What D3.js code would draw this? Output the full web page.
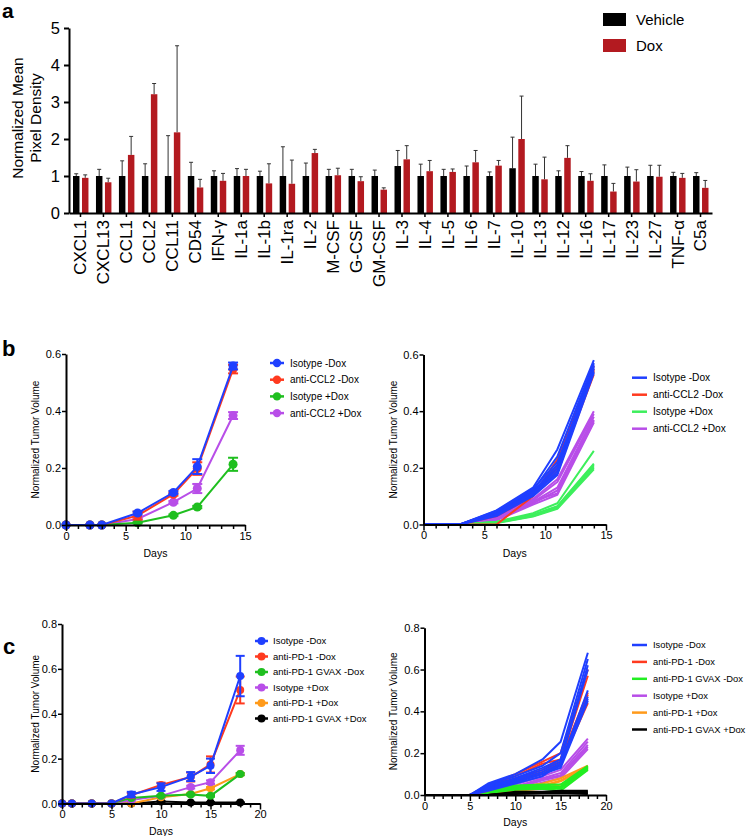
<!DOCTYPE html>
<html><head><meta charset="utf-8">
<script src="https://cdn.jsdelivr.net/npm/d3@7/dist/d3.min.js"></script>
<style>body{margin:0;background:#fff} text{font-family:"Liberation Sans",Arial,Helvetica,sans-serif}</style>
</head><body>
<svg id="fig" width="749" height="836"></svg>
<script>
// ---------- Panel a data ----------
const categories = ["CXCL1","CXCL13","CCL1","CCL2","CCL11","CD54","IFN-γ","IL-1a","IL-1b","IL-1ra","IL-2","M-CSF","G-CSF","GM-CSF","IL-3","IL-4","IL-5","IL-6","IL-7","IL-10","IL-13","IL-12","IL-16","IL-17","IL-23","IL-27","TNF-α","C5a"];
const vehicleMean = [1,1,1,1,1,1,1,1,1,1,1,1,1,1,1.27,1,1,1,1,1.21,1,1,1,1,1,1,1,1];
const vehicleErr  = [0.06,0.18,0.41,0.33,1.09,0.37,0.14,0.2,0.13,0.79,0.35,0.18,0.18,0.16,0.42,0.32,0.18,0.27,0.11,0.84,0.32,0.14,0.12,0.3,0.24,0.29,0.1,0.09];
const doxMean = [0.95,0.83,1.57,3.21,2.18,0.69,0.87,1.0,0.8,0.79,1.62,1.02,0.86,0.63,1.45,1.13,1.11,1.37,1.28,2.0,0.91,1.49,0.87,0.58,0.85,0.98,0.95,0.68];
const doxErr  = [0.08,0.11,0.5,0.29,2.34,0.22,0.2,0.18,0.53,0.64,0.1,0.19,0.12,0.05,0.37,0.29,0.08,0.32,0.14,1.16,0.6,0.33,0.19,0.22,0.32,0.31,0.12,0.2];
const yTicksA = [0,1,2,3,4,5];

// ---------- Panel b data ----------
const daysB = [0,2,3,6,9,11,14];
const groupsB = ["Isotype -Dox","anti-CCL2 -Dox","Isotype +Dox","anti-CCL2 +Dox"];
const meanB_isoMinus  = [0,0,0,0.042,0.114,0.205,0.558];
const errB_isoMinus   = [0,0,0,0.005,0.005,0.026,0.012];
const meanB_antiMinus = [0,0,0,0.033,0.108,0.198,0.547];
const errB_antiMinus  = [0,0,0,0.014,0.005,0.022,0.015];
const meanB_isoPlus   = [0,0,0,0.008,0.034,0.063,0.213];
const errB_isoPlus    = [0,0,0,0.002,0.003,0.004,0.023];
const meanB_antiPlus  = [0,0,0,0.021,0.080,0.128,0.384];
const errB_antiPlus   = [0,0,0,0.003,0.004,0.016,0.012];

const miceB_isoMinus = [
 [0,0,0,0.05,0.13,0.265,0.58],[0,0,0,0.045,0.12,0.24,0.57],[0,0,0,0.04,0.115,0.21,0.565],
 [0,0,0,0.042,0.11,0.2,0.56],[0,0,0,0.038,0.105,0.19,0.555],[0,0,0,0.035,0.11,0.18,0.55],
 [0,0,0,0.048,0.125,0.22,0.54],[0,0,0,0.03,0.1,0.175,0.535]];
const miceB_antiMinus = [
 [0,0,0,0,0.1,0.23,0.56],[0,0,0,0.04,0.11,0.21,0.55],[0,0,0,0.035,0.105,0.2,0.54],
 [0,0,0,0.03,0.1,0.19,0.53],[0,0,0,0.045,0.115,0.2,0.545]];
const miceB_isoPlus = [
 [0,0,0,0.01,0.04,0.075,0.26],[0,0,0,0.008,0.035,0.065,0.215],[0,0,0,0.007,0.033,0.062,0.21],
 [0,0,0,0.006,0.03,0.058,0.2],[0,0,0,0.009,0.034,0.06,0.205],[0,0,0,0.005,0.028,0.055,0.195]];
const miceB_antiPlus = [
 [0,0,0,0.03,0.09,0.16,0.4],[0,0,0,0.025,0.085,0.15,0.39],[0,0,0,0.02,0.08,0.13,0.38],
 [0,0,0,0.018,0.075,0.12,0.37],[0,0,0,0.015,0.07,0.105,0.36],[0,0,0,0.022,0.082,0.11,0.365]];

// ---------- Panel c data ----------
const daysC = [0,1,3,5,7,10,13,15,18];
const groupsC = ["Isotype -Dox","anti-PD-1 -Dox","anti-PD-1 GVAX -Dox","Isotype +Dox","anti-PD-1 +Dox","anti-PD-1 GVAX +Dox"];
const meanC_isoMinus  = [0,0,0,0,0.04,0.073,0.12,0.168,0.568];
const errC_isoMinus   = [0,0,0,0,0.012,0.017,0.02,0.032,0.09];
const meanC_pdMinus   = [0,0,0,0,0.037,0.083,0.118,0.174,0.506];
const errC_pdMinus    = [0,0,0,0,0.01,0.01,0.02,0.036,0.06];
const meanC_gvaxMinus = [0,0,0,0,0.025,0.034,0.04,0.034,0.131];
const errC_gvaxMinus  = [0,0,0,0,0.004,0.004,0.004,0.004,0.005];
const meanC_isoPlus   = [0,0,0,0,0.015,0.034,0.073,0.095,0.237];
const errC_isoPlus    = [0,0,0,0,0.003,0.004,0.006,0.008,0.02];
const meanC_pdPlus    = [0,0,0,0,0,0.028,0.042,0.068,0.131];
const errC_pdPlus     = [0,0,0,0,0,0.003,0.004,0.005,0.004];
const meanC_gvaxPlus  = [0,0,0,0,0,0.009,0.004,0.004,0.004];
const errC_gvaxPlus   = [0,0,0,0,0,0.002,0.002,0.002,0.002];

const miceC_isoMinus = [
 [0,0,0,0,0.055,0.1,0.17,0.255,0.68],[0,0,0,0,0.05,0.09,0.14,0.2,0.65],[0,0,0,0,0.045,0.08,0.13,0.17,0.62],
 [0,0,0,0,0.04,0.075,0.12,0.16,0.6],[0,0,0,0,0.035,0.07,0.11,0.15,0.5],[0,0,0,0,0.03,0.065,0.1,0.14,0.47],
 [0,0,0,0,0.025,0.06,0.1,0.13,0.45],[0,0,0,0,0.02,0.055,0.09,0.15,0.46]];
const miceC_pdMinus = [
 [0,0,0,0,0.045,0.1,0.16,0.2,0.6],[0,0,0,0,0.04,0.09,0.15,0.17,0.57],[0,0,0,0,0.03,0.08,0.12,0.17,0.49],
 [0,0,0,0,0.035,0.075,0.11,0.16,0.48],[0,0,0,0,0.02,0.07,0.1,0.15,0.44]];
const miceC_gvaxMinus = [
 [0,0,0,0,0.04,0.045,0.05,0.05,0.14],[0,0,0,0,0.03,0.04,0.045,0.04,0.135],[0,0,0,0,0.02,0.035,0.04,0.035,0.13],
 [0,0,0,0,0.015,0.03,0.035,0.03,0.125],[0,0,0,0,0.01,0.025,0.03,0.02,0.12]];
const miceC_isoPlus = [
 [0,0,0,0,0.02,0.05,0.09,0.12,0.27],[0,0,0,0,0.015,0.04,0.08,0.105,0.255],[0,0,0,0,0.01,0.035,0.075,0.095,0.24],
 [0,0,0,0,0.005,0.03,0.07,0.09,0.23],[0,0,0,0,0,0.02,0.06,0.08,0.22]];
const miceC_pdPlus = [
 [0,0,0,0,0,0.035,0.055,0.08,0.14],[0,0,0,0,0,0.03,0.045,0.07,0.135],
 [0,0,0,0,0,0.025,0.04,0.065,0.13],[0,0,0,0,0,0.02,0.03,0.05,0.12]];
const miceC_gvaxPlus = [
 [0,0,0,0,0,0.015,0.015,0.02,0.02],[0,0,0,0,0,0.01,0.012,0.018,0.015],
 [0,0,0,0,0,0.008,0.01,0.015,0.01],[0,0,0,0,0,0.005,0.008,0.01,0.005]];

// ---------- colours ----------
const C_BLUE="#1f3fff", C_RED="#ff3a1f", C_GREEN="#1fbf1f", C_GREEN_B="#3def5c", C_GREEN_C="#22ee22",
      C_PURPLE="#b84ee8", C_ORANGE="#ff9a1a", C_BLACK="#000000", C_BAR_RED="#b31a20";

const svg = d3.select("#fig");
const FONT = '"Liberation Sans",Arial,Helvetica,sans-serif';

// ================= Panel a =================
(function(){
  const g = svg.append("g");
  const xA = d3.scaleBand().domain(categories).range([69, 712]);
  const yA = d3.scaleLinear().domain([0,5]).range([213, 28]);
  const sub = d3.scaleBand().domain(["Vehicle","Dox"]).range([4, xA.bandwidth()-3.5]).paddingInner(0.28);
  const rows = categories.map((c,i)=>({c, v:vehicleMean[i], ve:vehicleErr[i], d:doxMean[i], de:doxErr[i]}));
  const bars = [];
  rows.forEach(r=>{ bars.push({c:r.c,k:"Vehicle",m:r.v,e:r.ve,col:C_BLACK}); bars.push({c:r.c,k:"Dox",m:r.d,e:r.de,col:C_BAR_RED}); });

  g.selectAll("line.err").data(bars).join("line")
    .attr("x1",d=>xA(d.c)+sub(d.k)+sub.bandwidth()/2).attr("x2",d=>xA(d.c)+sub(d.k)+sub.bandwidth()/2)
    .attr("y1",d=>yA(d.m)).attr("y2",d=>yA(d.m+d.e)).attr("stroke","#333").attr("stroke-width",1);
  g.selectAll("line.cap").data(bars).join("line")
    .attr("x1",d=>xA(d.c)+sub(d.k)+sub.bandwidth()/2-2).attr("x2",d=>xA(d.c)+sub(d.k)+sub.bandwidth()/2+2)
    .attr("y1",d=>yA(d.m+d.e)).attr("y2",d=>yA(d.m+d.e)).attr("stroke","#333").attr("stroke-width",1);
  g.selectAll("rect.bar").data(bars).join("rect")
    .attr("x",d=>xA(d.c)+sub(d.k)).attr("width",sub.bandwidth())
    .attr("y",d=>yA(d.m)).attr("height",d=>yA(0)-yA(d.m)).attr("fill",d=>d.col);

  const ya = g.append("g").attr("transform","translate(69,0)")
    .call(d3.axisLeft(yA).tickValues(yTicksA).tickFormat(d3.format("d")).tickSize(5).tickSizeOuter(0).tickPadding(4));
  ya.select(".domain").attr("stroke-width",2);
  ya.selectAll(".tick line").attr("stroke-width",2);
  ya.selectAll("text").attr("font-size",16.5).attr("font-family",FONT).attr("fill","#000");

  const xa = g.append("g").attr("transform","translate(0,213)")
    .call(d3.axisBottom(xA).tickSize(4).tickSizeOuter(0));
  xa.select(".domain").attr("stroke-width",2);
  xa.selectAll(".tick line").attr("stroke-width",1.5);
  xa.selectAll("text").attr("font-size",17).attr("font-family",FONT).attr("fill","#000")
    .attr("transform","rotate(-90)").attr("text-anchor","end").attr("x",-7).attr("y",0).attr("dy","0.35em");

  const t = g.append("text").attr("transform","translate(26,118) rotate(-90)").attr("text-anchor","middle")
    .attr("font-size",15.5).attr("font-family",FONT);
  t.append("tspan").attr("x",0).attr("dy","-0.2em").text("Normalized Mean");
  t.append("tspan").attr("x",0).attr("dy","1.15em").text("Pixel Density");

  const leg = [{k:"Vehicle",c:C_BLACK},{k:"Dox",c:C_BAR_RED}];
  leg.forEach((l,i)=>{
    g.append("rect").attr("x",603).attr("y",13+i*26).attr("width",23).attr("height",13).attr("fill",l.c);
    g.append("text").attr("x",636).attr("y",20+i*26).attr("dy","0.35em").attr("font-size",15).attr("font-family",FONT).text(l.k);
  });
  svg.append("text").attr("x",2).attr("y",18).attr("font-size",21).attr("font-weight","bold").attr("font-family",FONT).text("a");
})();

// ============ generic XY axis helper ============
function drawAxes(g, x, y, xMax, yTicks, tickFont){
  const xa = g.append("g").attr("transform",`translate(0,${y(0)})`)
    .call(d3.axisBottom(x).tickValues(d3.range(0,xMax+1)).tickSize(4).tickSizeOuter(0)
      .tickFormat(d=> d%5===0 ? d : ""));
  xa.selectAll(".tick").filter(d=>d%5===0).select("line").attr("y2",6);
  xa.select(".domain").attr("stroke-width",2);
  xa.selectAll(".tick line").attr("stroke-width",1.5);
  xa.selectAll("text").attr("font-size",tickFont).attr("font-family",FONT).attr("fill","#000");
  const ya = g.append("g").attr("transform",`translate(${x(0)},0)`)
    .call(d3.axisLeft(y).tickValues(yTicks).tickFormat(d3.format(".1f")).tickSize(4).tickSizeOuter(0).tickPadding(1));
  ya.select(".domain").attr("stroke-width",2);
  ya.selectAll(".tick line").attr("stroke-width",1.5);
  ya.selectAll("text").attr("font-size",tickFont).attr("font-family",FONT).attr("fill","#000");
}
function axisTitles(g, x, y, titleX, daysY){
  const [r0,r1] = x.range(); const [b,t] = y.range();
  g.append("text").attr("transform",`translate(${titleX},${(b+t)/2}) rotate(-90)`).attr("text-anchor","middle")
    .attr("dy","0.35em").attr("font-size",10).attr("font-family",FONT).text("Normalized Tumor Volume");
  g.append("text").attr("x",(r0+r1)/2).attr("y",daysY).attr("text-anchor","middle").attr("dy","0.35em")
    .attr("font-size",10.5).attr("font-family",FONT).text("Days");
}
function meanPanel(g, x, y, days, series, r, capW){
  series.slice().reverse().forEach(s=>{
    const pts = days.map((d,i)=>({d, m:s.mean[i], e:s.err[i]}));
    g.append("path").datum(pts).attr("fill","none").attr("stroke",s.color).attr("stroke-width",2)
      .attr("d", d3.line().x(p=>x(p.d)).y(p=>y(p.m)));
    const eb = pts.filter(p=>p.e>0);
    g.selectAll(null).data(eb).join("line").attr("x1",p=>x(p.d)).attr("x2",p=>x(p.d))
      .attr("y1",p=>y(p.m-p.e)).attr("y2",p=>y(p.m+p.e)).attr("stroke",s.color).attr("stroke-width",2);
    ["+","-"].forEach(sg=>{
      g.selectAll(null).data(eb).join("line").attr("x1",p=>x(p.d)-capW/2).attr("x2",p=>x(p.d)+capW/2)
        .attr("y1",p=>y(sg==="+"?p.m+p.e:p.m-p.e)).attr("y2",p=>y(sg==="+"?p.m+p.e:p.m-p.e))
        .attr("stroke",s.color).attr("stroke-width",2);
    });
    g.selectAll(null).data(pts).join("circle").attr("cx",p=>x(p.d)).attr("cy",p=>y(p.m)).attr("r",r).attr("fill",s.color);
  });
}
function micePanel(g, x, y, days, groups){
  groups.forEach(s=>{
    s.mice.forEach(m=>{
      g.append("path").datum(days.map((d,i)=>[d,m[i]])).attr("fill","none").attr("stroke",s.color)
        .attr("stroke-width",2).attr("stroke-linejoin","round")
        .attr("d", d3.line().x(p=>x(p[0])).y(p=>y(p[1])));
    });
  });
}
function legend(g, items, lx0, lx1, tx, y0, dy, withDot, r, fs){
  items.forEach((it,i)=>{
    const yy = y0+i*dy;
    g.append("line").attr("x1",lx0).attr("x2",lx1).attr("y1",yy).attr("y2",yy).attr("stroke",it.color).attr("stroke-width",2.5);
    if(withDot) g.append("circle").attr("cx",(lx0+lx1)/2).attr("cy",yy).attr("r",r).attr("fill",it.color);
    g.append("text").attr("x",tx).attr("y",yy).attr("dy","0.35em").attr("font-size",fs).attr("font-family",FONT).text(it.name);
  });
}

// ================= Panel b left =================
(function(){
  const g = svg.append("g");
  const x = d3.scaleLinear().domain([0,15]).range([66,245]);
  const y = d3.scaleLinear().domain([0,0.6]).range([525,354]);
  const series = [
    {name:groupsB[0], color:C_BLUE, mean:meanB_isoMinus, err:errB_isoMinus},
    {name:groupsB[1], color:C_RED, mean:meanB_antiMinus, err:errB_antiMinus},
    {name:groupsB[2], color:C_GREEN, mean:meanB_isoPlus, err:errB_isoPlus},
    {name:groupsB[3], color:C_PURPLE, mean:meanB_antiPlus, err:errB_antiPlus}];
  meanPanel(g, x, y, daysB, series, 4.5, 10);
  drawAxes(g, x, y, 15, [0,0.2,0.4,0.6], 11);
  axisTitles(g, x, y, 35, 553);
  legend(g, series, 270, 284, 290, 363, 16.7, true, 4.2, 10);
  svg.append("text").attr("x",2).attr("y",356).attr("font-size",22).attr("font-weight","bold").attr("font-family",FONT).text("b");
})();

// ================= Panel b right =================
(function(){
  const g = svg.append("g");
  const x = d3.scaleLinear().domain([0,15]).range([423.5,606]);
  const y = d3.scaleLinear().domain([0,0.6]).range([524.5,354.5]);
  const groups = [
    {name:groupsB[3], color:C_PURPLE, mice:miceB_antiPlus},
    {name:groupsB[2], color:C_GREEN_B, mice:miceB_isoPlus},
    {name:groupsB[1], color:C_RED, mice:miceB_antiMinus},
    {name:groupsB[0], color:C_BLUE, mice:miceB_isoMinus}];
  micePanel(g, x, y, daysB, groups);
  drawAxes(g, x, y, 15, [0,0.2,0.4,0.6], 11);
  axisTitles(g, x, y, 393, 553);
  legend(g, groups.slice().reverse(), 632, 647, 653, 377.7, 17, false, 0, 10.2);
})();

// ================= Panel c left =================
(function(){
  const g = svg.append("g");
  const x = d3.scaleLinear().domain([0,20]).range([62,260]);
  const y = d3.scaleLinear().domain([0,0.8]).range([803.5,624]);
  const series = [
    {name:groupsC[0], color:C_BLUE, mean:meanC_isoMinus, err:errC_isoMinus},
    {name:groupsC[1], color:C_RED, mean:meanC_pdMinus, err:errC_pdMinus},
    {name:groupsC[2], color:C_GREEN, mean:meanC_gvaxMinus, err:errC_gvaxMinus},
    {name:groupsC[3], color:C_PURPLE, mean:meanC_isoPlus, err:errC_isoPlus},
    {name:groupsC[4], color:C_ORANGE, mean:meanC_pdPlus, err:errC_pdPlus},
    {name:groupsC[5], color:C_BLACK, mean:meanC_gvaxPlus, err:errC_gvaxPlus}];
  meanPanel(g, x, y, daysC, series, 4, 9);
  drawAxes(g, x, y, 20, [0,0.2,0.4,0.6,0.8], 11);
  axisTitles(g, x, y, 35, 831);
  legend(g, series, 255, 268, 273, 641, 15.5, true, 4, 9.5);
  svg.append("text").attr("x",3).attr("y",654).attr("font-size",22).attr("font-weight","bold").attr("font-family",FONT).text("c");
})();

// ================= Panel c right =================
(function(){
  const g = svg.append("g");
  const x = d3.scaleLinear().domain([0,20]).range([424.5,606]);
  const y = d3.scaleLinear().domain([0,0.8]).range([795,627.7]);
  const groups = [
    {name:groupsC[3], color:C_PURPLE, mice:miceC_isoPlus},
    {name:groupsC[4], color:C_ORANGE, mice:miceC_pdPlus},
    {name:groupsC[2], color:C_GREEN_C, mice:miceC_gvaxMinus},
    {name:groupsC[1], color:C_RED, mice:miceC_pdMinus},
    {name:groupsC[0], color:C_BLUE, mice:miceC_isoMinus},
    {name:groupsC[5], color:C_BLACK, mice:miceC_gvaxPlus}];
  micePanel(g, x, y, daysC, groups);
  drawAxes(g, x, y, 20, [0,0.2,0.4,0.6,0.8], 11);
  axisTitles(g, x, y, 393, 822);
  const order = [groups[4],groups[3],groups[2],groups[0],groups[1],groups[5]];
  legend(g, order, 632, 647, 653, 645, 16.9, false, 0, 9.4);
})();
</script>
</body></html>
